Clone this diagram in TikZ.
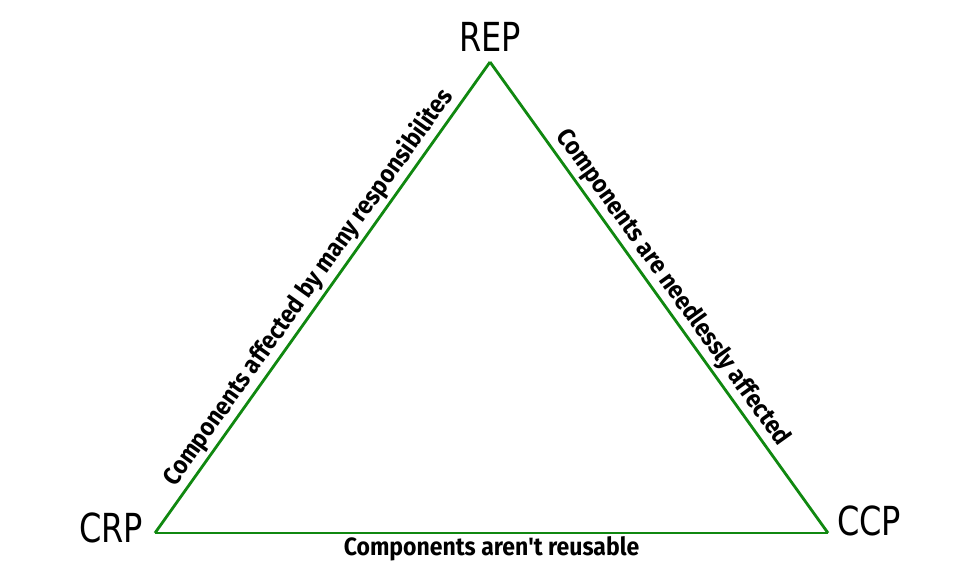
\documentclass[tikz,border=0pt]{standalone}
\usepackage{fontspec}
\setmainfont{Fira Sans}
\newfontfamily\hand{DejaVu Sans}
\begin{document}
\begin{tikzpicture}[x=1pt,y=-1pt,
  edge/.style={draw={rgb,255:red,16;green,136;blue,16}, line width=2.8pt, line join=miter},
  elabel/.style={font=\fontsize{25}{25}\selectfont\bfseries, text=black, inner sep=3pt, xscale=0.92},
  vlabel/.style={font=\fontsize{40}{40}\selectfont\hand, text=black, inner sep=0pt, xscale=0.8}]
\useasboundingbox (0,0) rectangle (960,580);
\coordinate (REP) at (490,62);
\coordinate (CRP) at (155,533);
\coordinate (CCP) at (828,533);
\draw[edge] (REP) -- (CRP)
  node[elabel, midway, sloped, above] (l1) {Components affected by many responsibilites};
\draw[edge] (REP) -- (CCP)
  node[elabel, midway, sloped, above] (l2) {Components are needlessly affected};
\draw[edge] (CRP) -- (CCP)
  node[elabel, midway, below, inner sep=2pt] (l3) {Components aren\textquotesingle t reusable};
\node[vlabel] (nrep) at (490,37) {REP};
\node[vlabel] (ncrp) at (111,528) {CRP};
\node[vlabel] (nccp) at (869,521) {CCP};
\end{tikzpicture}
\end{document}
